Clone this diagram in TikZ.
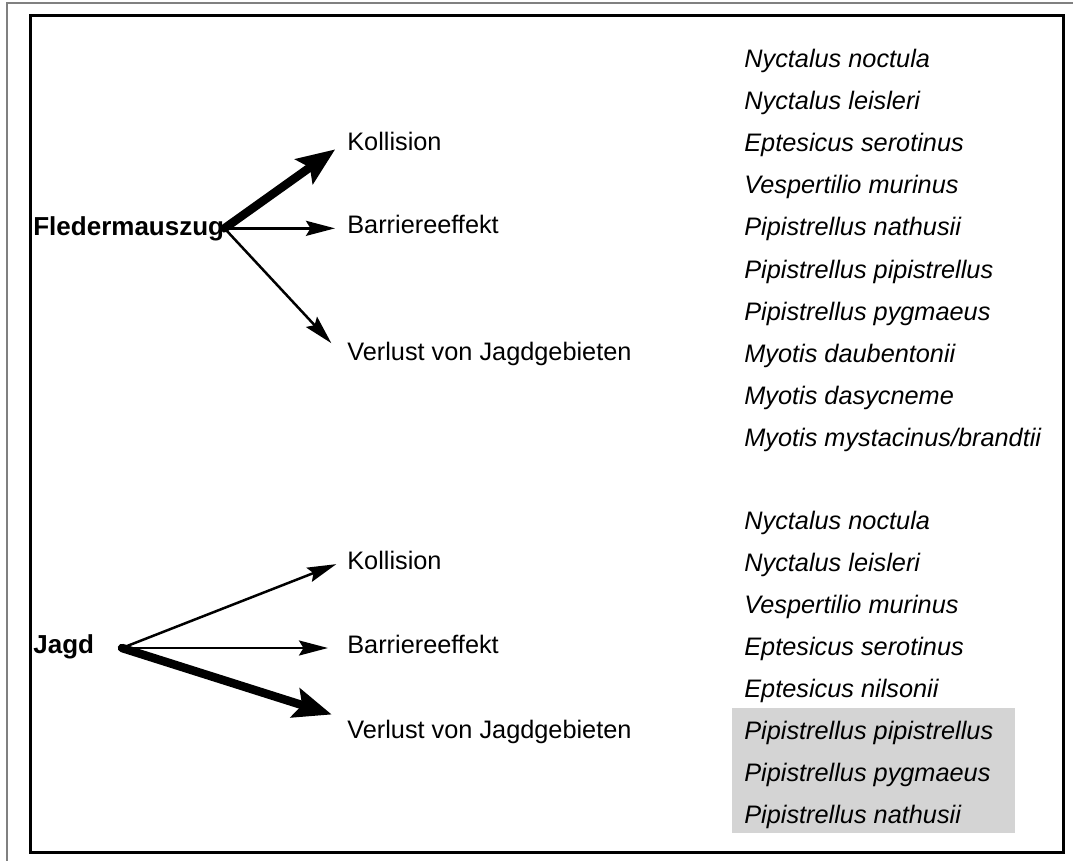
\documentclass[tikz,border=0pt]{standalone}
\usepackage{fontspec}
\setmainfont{Liberation Sans}
\usetikzlibrary{arrows.meta}

\begin{document}
\begin{tikzpicture}[x=0.2mm, y=-0.2mm,
  every node/.style={inner sep=0pt, font=\fontsize{14.4pt}{16pt}\selectfont},
  ursache/.style={anchor=base west, font=\fontsize{14.8pt}{16pt}\selectfont\bfseries},
  wirkung/.style={anchor=base west},
  art/.style={anchor=base west, font=\fontsize{14.4pt}{16pt}\selectfont\itshape},
  pfeil/.style={line width=0.5mm, -{Stealth[length=5.8mm, width=3mm, inset=0.9mm]}},
  starkpfeil/.style={line width=1.7mm, line cap=round, -{Stealth[length=7.6mm, width=6mm, inset=1.4mm]}}]
\useasboundingbox (0,0) rectangle (1073,861);
\fill[white] (0,0) rectangle (1073,861);
% scan edge and frame
\draw[gray, line width=0.4mm] (7,861) -- (7,3) -- (1073,3);
\draw[line width=0.6mm] (30,15) rectangle (1063,852);

% shaded species
\fill[black!17] (732,708) rectangle (1015,833);

% Fledermauszug
\node[ursache] (zug) at (33,235) {Fledermauszug};
\node[wirkung] (zkol) at (347,150) {Kollision};
\node[wirkung] (zbar) at (347,233) {Barriereeffekt};
\node[wirkung] (zver) at (347,360) {Verlust von Jagdgebieten};
\draw[starkpfeil, shorten >=2.9mm] (zug.east) -- (zkol.west);
\draw[pfeil, shorten >=2.4mm] (zug.east) -- (zug.east -| zbar.west);
\draw[pfeil, shorten >=4.6mm] (zug.east) -- (zver.base west);

\node[art] (a1) at (744,67) {Nyctalus noctula};
\node[art] (a2) at (744,109.2) {Nyctalus leisleri};
\node[art] (a3) at (744,151.4) {Eptesicus serotinus};
\node[art] (a4) at (744,193.6) {Vespertilio murinus};
\node[art] (a5) at (744,235.8) {Pipistrellus nathusii};
\node[art] (a6) at (744,278) {Pipistrellus pipistrellus};
\node[art] (a7) at (744,320.2) {Pipistrellus pygmaeus};
\node[art] (a8) at (744,362.4) {Myotis daubentonii};
\node[art] (a9) at (744,404.6) {Myotis dasycneme};
\node[art] (a10) at (744,446.8) {Myotis mystacinus/brandtii};

% Jagd
\node[ursache] (jagd) at (33,653) {Jagd};
\coordinate (jagdq) at (122,648);
\node[wirkung] (jkol) at (347,569) {Kollision};
\node[wirkung] (jbar) at (347,653) {Barriereeffekt};
\node[wirkung] (jver) at (347,738) {Verlust von Jagdgebieten};
\draw[pfeil, shorten >=2.3mm] (jagdq) -- (jkol.west);
\draw[pfeil, shorten >=3.8mm] (jagdq) -- (jagdq -| jbar.west);
\draw[starkpfeil, shorten >=3.2mm] (jagdq) -- (jver.north west);

\node[art] (b1) at (744,529) {Nyctalus noctula};
\node[art] (b2) at (744,571.1) {Nyctalus leisleri};
\node[art] (b3) at (744,613.2) {Vespertilio murinus};
\node[art] (b4) at (744,655.3) {Eptesicus serotinus};
\node[art] (b5) at (744,697.4) {Eptesicus nilsonii};
\node[art] (b6) at (744,739.5) {Pipistrellus pipistrellus};
\node[art] (b7) at (744,781.6) {Pipistrellus pygmaeus};
\node[art] (b8) at (744,823.7) {Pipistrellus nathusii};
\end{tikzpicture}
\end{document}
